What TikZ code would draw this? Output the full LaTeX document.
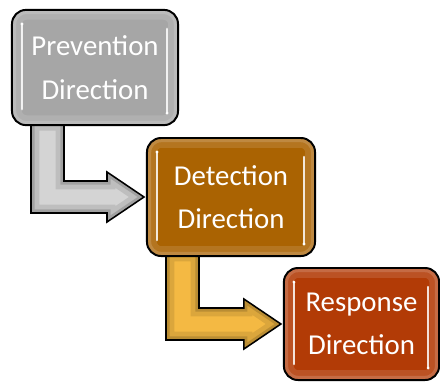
\documentclass[tikz,border=0pt]{standalone}
\usepackage{fontspec}
\setmainfont{Carlito}
\usetikzlibrary{positioning,calc,backgrounds}

\definecolor{prevgray}{HTML}{A6A6A6}
\definecolor{detbrown}{HTML}{AA6302}
\definecolor{resred}{HTML}{B23B06}
\definecolor{arrgray}{HTML}{D4D4D4}
\definecolor{arrgold}{HTML}{F4B943}

% elbow arrow from the foot of #1 into the west side of #2
\newcommand{\elbow}[2]{($(#1.south west)+(20,-4)$) |- ($(#2.west)+(-39,16)$)
  -- ($(#2.west)+(-39,25)$) -- ($(#2.west)+(-2,0)$) -- ($(#2.west)+(-39,-25)$)
  -- ($(#2.west)+(-39,-16)$) -| ($(#1.south west)+(53,-4)$) -- cycle}

\begin{document}
\begin{tikzpicture}[x=0.025cm,y=-0.025cm,
  box/.style={draw=black, line width=1.4pt, rounded corners=10pt,
    text=white, align=center, font=\fontsize{20.5}{31}\selectfont,
    path picture={
      \draw[white, opacity=0.12, line width=14pt]
        (path picture bounding box.south west) rectangle (path picture bounding box.north east);
      \draw[white, opacity=0.15, line width=6pt]
        (path picture bounding box.south west) rectangle (path picture bounding box.north east);}},
  shine/.style={white, opacity=0.85, line width=1.8pt, line cap=round}]
  \useasboundingbox (0,0) rectangle (440,383);
  % boxes
  \node[box, fill=prevgray, minimum width=4.15cm, minimum height=2.88cm] (prev) at (95,67.5) {Prevention\\Direction};
  \node[box, fill=detbrown, minimum width=4.2cm, minimum height=2.95cm] (detect) at (231,197) {Detection\\Direction};
  \node[box, fill=resred, minimum width=3.88cm, minimum height=2.8cm] (resp) at (361.5,324) {Response\\Direction};
  % highlights
  \foreach \n in {prev, detect, resp} {
    \draw[shine] ($(\n.north west)+(11,15)$) -- ($(\n.south west)+(11,-17)$);
    \draw[shine] ($(\n.north east)+(-12,20)$) -- ($(\n.south east)+(-12,-13)$);
    \fill[white] ($(\n.north west)+(11,15)$) circle (1.6);
    \fill[white] ($(\n.south east)+(-12,-13)$) circle (1.6);
  };
  % arrows
  \begin{scope}[on background layer]
    \foreach \a/\b/\c in {prev/detect/arrgray, detect/resp/arrgold} {
      \fill[\c] \elbow{\a}{\b};
      \begin{scope}
        \clip \elbow{\a}{\b};
        \draw[black, opacity=0.1, line width=12pt] \elbow{\a}{\b};
        \draw[black, opacity=0.15, line width=5pt] \elbow{\a}{\b};
      \end{scope}
      \draw[black, line width=1.1pt, line join=miter] \elbow{\a}{\b};
    };
  \end{scope}
\end{tikzpicture}
\end{document}
